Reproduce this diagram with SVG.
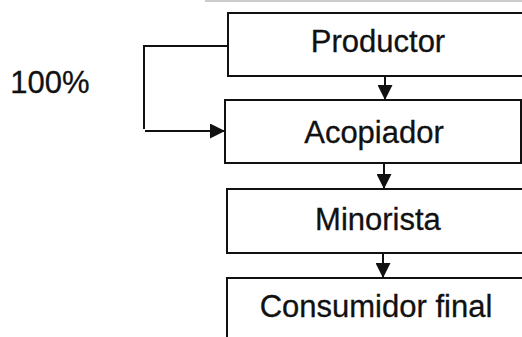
<svg xmlns="http://www.w3.org/2000/svg" width="522" height="337" viewBox="0 0 522 337">
<style>
.box{fill:#fff;stroke:#111;stroke-width:2}
.lbl{font-family:"Liberation Sans",Arial,sans-serif;font-size:31px;fill:#111;stroke:#111;stroke-width:0.3;text-anchor:middle}
.ln{fill:none;stroke:#111;stroke-width:2}
</style>
<defs>
<marker id="ah" markerWidth="15" markerHeight="15" viewBox="0 0 15 15" refX="15" refY="7.5" orient="auto" markerUnits="userSpaceOnUse">
<path d="M0,0 L15,7.5 L0,15 Z" fill="#111"/>
</marker>
</defs>
<rect width="522" height="337" fill="#fff"/>
<line x1="205" y1="1" x2="522" y2="1" stroke="#bbb" stroke-width="1.5"/>
<g id="productor">
<rect class="box" x="228" y="13" width="310" height="63"/>
<text class="lbl" x="378" y="52">Productor</text>
</g>
<g id="acopiador">
<rect class="box" x="225" y="100" width="296" height="63"/>
<text class="lbl" x="374" y="143">Acopiador</text>
</g>
<g id="minorista">
<rect class="box" x="227" y="189" width="311" height="64"/>
<text class="lbl" x="378" y="230">Minorista</text>
</g>
<g id="consumidor">
<rect class="box" x="227" y="278" width="311" height="80"/>
<text class="lbl" x="376" y="317">Consumidor final</text>
</g>
<g id="label100">
<text class="lbl" x="50" y="93">100%</text>
</g>
<g id="connectors">
<line class="ln" x1="385" y1="76" x2="385" y2="100" marker-end="url(#ah)"/>
<line class="ln" x1="384" y1="163" x2="384" y2="189" marker-end="url(#ah)"/>
<line class="ln" x1="383" y1="253" x2="383" y2="278" marker-end="url(#ah)"/>
<polyline class="ln" points="228,46 144,46 144,129"/>
<line class="ln" x1="145" y1="131" x2="225" y2="131" marker-end="url(#ah)"/>
</g>
</svg>
